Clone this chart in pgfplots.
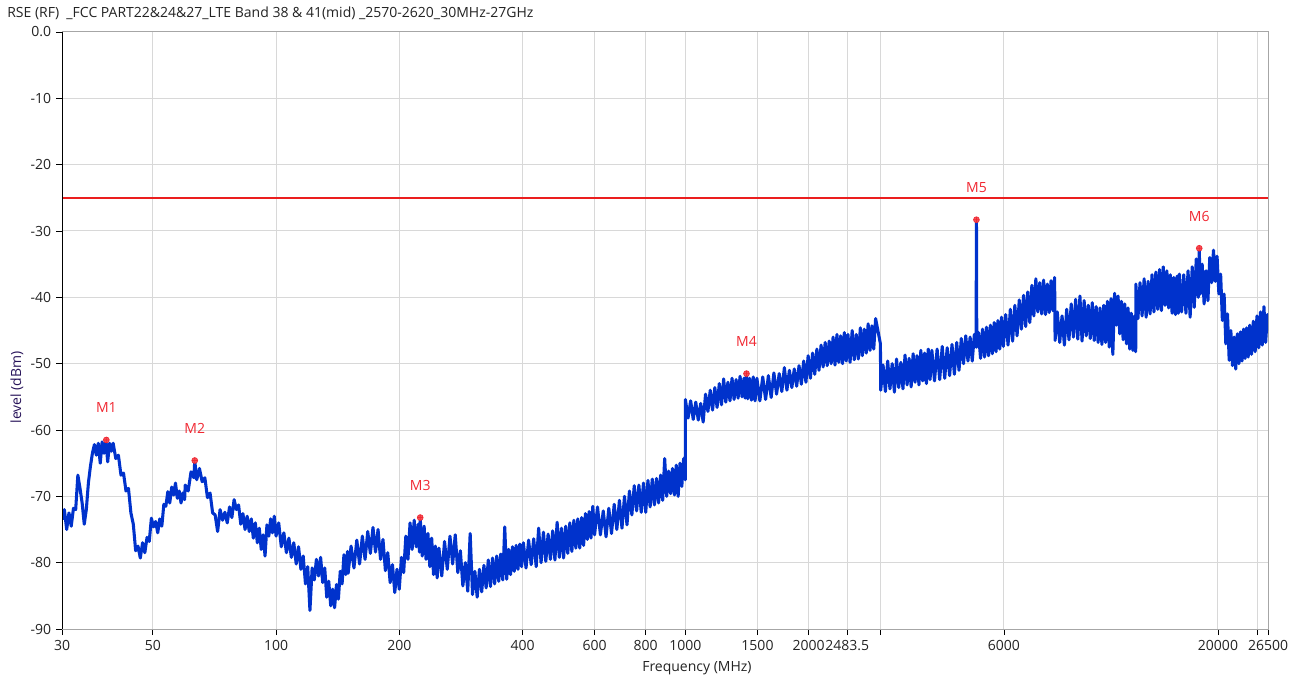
\documentclass[border=0pt]{standalone}
\usepackage{fontspec}
\setmainfont{Open Sans}
\usepackage{pgfplots}
\pgfplotsset{compat=1.18}
\definecolor{trace}{RGB}{0,50,204}
\definecolor{mkred}{RGB}{240,40,50}
\definecolor{limred}{RGB}{235,30,30}
\definecolor{gridc}{RGB}{216,216,216}
\definecolor{ylab}{RGB}{40,20,90}
\definecolor{txt}{RGB}{35,35,35}
\begin{document}
\fontsize{10.5pt}{12pt}\selectfont
\begin{tikzpicture}
\begin{axis}[
  name=ax,
  scale only axis, width=904.5pt, height=447.75pt,
  xmode=log, xmin=30, xmax=26500, ymin=-90, ymax=0,
  xtick={30,50,100,200,400,600,800,1000,1500,2000,2483.5,3000,6000,20000,25000,26500},
  xticklabels={30,50,100,200,400,600,800,1000,1500,2000,2483.5,{},6000,20000,{},26500},
  minor xtick={},
  ytick={-90,-80,-70,-60,-50,-40,-30,-20,-10,0},
  yticklabels={-90,-80,-70,-60,-50,-40,-30,-20,-10,0.0},
  grid=major, major grid style={gridc, line width=0.75pt},
  tick align=outside, tick pos=left, major tick length=4.5pt,
  tick style={black, line width=0.6pt},
  axis line style={gray!70, line width=0.75pt},
  ticklabel style={font=\fontsize{10.5pt}{12pt}\selectfont, text=txt},
]
\addplot[draw=trace, line width=2.3pt, line join=round, mark=none] table {
f L
30.0 -73.5
30.4 -72
30.8 -75
31.2 -72.5
31.6 -74.5
32.0 -71.8
32.4 -72
32.8 -66.8
33.2 -68.8
33.6 -71
34.0 -74.2
34.4 -72
34.8 -68
35.2 -65.5
35.6 -63.5
36.0 -62.2
36.4 -63.8
36.8 -62
37.2 -65
37.6 -61.8
38.0 -63.5
38.4 -61.6
38.8 -64.8
39.2 -62
39.6 -63.2
40.0 -62
40.6 -64.3
41.2 -63.8
41.8 -66.8
42.4 -66.5
43.0 -69.2
43.6 -68.8
44.2 -72.5
44.8 -74.2
45.4 -78.2
46.0 -77.5
46.6 -79.3
47.2 -77
47.8 -78.5
48.4 -76.2
49.0 -76.8
49.6 -73.3
50.2 -74.6
50.8 -73.8
51.4 -75.5
52.0 -73.4
52.6 -74.5
53.2 -71.2
53.8 -71.5
54.4 -69.3
55.0 -71
55.6 -68.6
56.2 -69.8
56.8 -68
57.4 -70.3
58.0 -69.2
58.6 -71
59.2 -69.5
59.8 -70.5
60 -68.3
61 -69.2
62 -66.3
63 -67.2
63.3 -64.6
64 -67.5
65 -65.8
66 -67.8
67 -67.2
68 -70.2
69 -69.5
70 -72.5
71 -72.8
72 -75.3
73 -72
74 -73.6
75 -72.4
76 -74
77 -71.6
78 -73.2
79 -70.5
80 -72
81 -71.3
82 -74.2
83 -72.6
84 -75
85 -73
86 -75.3
87 -73.4
88 -76.3
89 -74
90 -77
91 -74.8
92 -78
93 -75.8
94 -79
95 -74.3
96 -76
97 -73.4
98 -75.5
99 -73
100 -76
101.5 -74
103 -77.6
104.5 -75.5
106 -78.5
107.5 -76.3
109 -79.2
110.5 -77
112 -80.2
113.5 -77.6
115 -81
116.5 -79
118 -83.2
119.5 -80.6
121 -87.2
122.5 -80.8
124 -82.6
125.5 -79.5
127 -82
128.5 -79.2
130 -83
131.5 -80.8
133 -85.2
134.5 -82.8
136 -86.5
137.5 -84
139 -86.8
140.5 -83.3
142 -85.5
143.5 -81.3
145 -83.2
146.5 -78.8
148 -81.8
149.5 -78.3
150 -81.6
152.5 -77.5
155 -80.8
157.5 -76.6
160 -80.2
162.5 -76
165 -79.5
167.5 -75.3
170 -78.6
172.5 -74.7
175 -78.4
177.5 -75
180 -79.5
182.5 -76.5
185 -81.2
187.5 -78.5
190 -83
192.5 -80.3
195 -84.5
197.5 -81
200 -84
202.5 -79.2
205 -81.5
207.5 -76
210 -79.5
212.5 -74
215 -78
217.5 -73.6
220 -77.6
222.5 -74.2
224 -78.4
225 -73.2
227.5 -79
230 -74.5
232.5 -79.5
235 -75.6
237.5 -80.6
240 -76.3
242.5 -81.8
245 -77.5
247.5 -82.3
250 -77.8
254 -82
258 -76.8
262 -81
266 -76
270 -80.2
274 -75.8
278 -81.5
282 -78.2
286 -83.5
290 -80
294 -84.3
298 -75.6
302 -84.8
306 -81.3
310 -85.2
314 -81
318 -84.4
322 -80.4
326 -83.8
330 -79.6
334 -83.6
338 -79.3
342 -83.2
346 -79
350 -82.8
354 -78.7
358 -82.6
362 -74.6
366 -82.5
370 -78
374 -81.8
378 -77.6
382 -81.3
386 -77.4
390 -81
394 -77.2
398 -80.6
402 -77
408 -80.8
414 -76.6
420 -80.3
426 -76.4
432 -80.6
438 -74.8
444 -80
450 -75.4
456 -79.8
462 -75.7
468 -79.5
474 -75.2
480 -79.6
486 -73.9
492 -79.2
498 -74.8
504 -79.3
510 -74.5
516 -78.6
522 -74
528 -78.3
534 -73.6
540 -77.8
546 -73.4
552 -77.8
558 -73.2
564 -77.4
570 -72.6
576 -76.5
582 -72.3
588 -76.3
594 -71.5
600 -75.8
610 -71.6
620 -75.8
630 -72.2
640 -76.1
650 -71.8
660 -75.6
670 -71.2
680 -75
690 -70.6
700 -74.8
710 -70
720 -74.3
730 -69.2
740 -72.8
750 -68.4
760 -72.2
770 -68.3
780 -72.4
790 -68
800 -72.4
810 -67.6
820 -71.6
830 -67.4
840 -71.3
850 -67.3
860 -71
870 -66.8
880 -70.6
890 -64.3
900 -70
910 -66.2
920 -69.6
930 -65.8
940 -69.8
950 -65.3
960 -70
970 -65
980 -68.5
990 -64.3
999 -67.5
1000 -55.4
1015 -58.2
1030 -55.6
1045 -58.4
1060 -55.8
1075 -58.5
1090 -56
1105 -58.8
1120 -54.6
1135 -57.2
1150 -54
1165 -57
1180 -53.6
1195 -56.6
1210 -53
1225 -56.2
1240 -52.3
1255 -55.8
1270 -52.8
1285 -55.6
1300 -52.2
1315 -55.4
1330 -52.4
1345 -55.2
1360 -51.9
1375 -55
1390 -52.2
1400 -55.2
1410 -51.5
1420 -55.3
1435 -52.2
1450 -55.5
1465 -52
1480 -55.6
1495 -52.2
1520 -55.6
1545 -52
1570 -55.4
1595 -51.8
1620 -55.1
1645 -51.4
1670 -54.6
1695 -51.5
1720 -54.2
1745 -50.6
1770 -54
1795 -51
1820 -53.6
1845 -50.8
1870 -53.4
1895 -50.3
1920 -53.1
1945 -49.6
1970 -52.8
1995 -48.8
2020 -52.2
2045 -48.4
2070 -51.6
2095 -47.8
2120 -51
2145 -47.2
2170 -50.5
2195 -46.8
2220 -50.3
2245 -46.6
2270 -50
2295 -46
2320 -50.2
2345 -45.6
2370 -49.8
2395 -45.8
2420 -50
2445 -45.3
2470 -49.6
2495 -45.6
2525 -49.8
2555 -45
2585 -49.4
2615 -45.6
2645 -49.3
2675 -44.6
2705 -48.8
2735 -44.8
2765 -48.4
2795 -44
2825 -48
2855 -44.3
2885 -47.8
2915 -43.2
2995 -47
3000 -54
3040 -50.2
3080 -54.2
3120 -49.6
3160 -53.8
3200 -50
3240 -54.3
3280 -49.3
3320 -53.6
3360 -49.8
3400 -53.8
3440 -48.7
3480 -53.2
3520 -49.2
3560 -53.5
3600 -48.5
3640 -52.8
3680 -48.8
3720 -53.2
3760 -48
3800 -52.6
3840 -48.4
3880 -53
3920 -47.8
3960 -52.4
4000 -48
4060 -52.6
4120 -47.8
4180 -52.4
4240 -47.4
4300 -52.2
4360 -47.6
4420 -51.8
4480 -47.1
4540 -51.6
4600 -46.8
4660 -51
4720 -46.2
4780 -50
4840 -45.8
4900 -49.6
4960 -46
5020 -49.6
5080 -45.6
5130 -47.5
5140 -28.3
5150 -47.5
5200 -45.3
5260 -49.2
5320 -44.8
5380 -49
5440 -44.5
5500 -48.8
5560 -44.2
5620 -48.5
5680 -43.8
5740 -48.2
5800 -43.5
5860 -47.8
5920 -43
5980 -47.4
6060 -42.6
6140 -47.2
6220 -41.8
6300 -46.6
6380 -41.2
6460 -45.8
6540 -40.4
6620 -44.8
6700 -39.7
6780 -44.4
6860 -39.2
6940 -43.8
7020 -38.2
7100 -42.8
7180 -37.2
7260 -42.2
7340 -37.8
7420 -42.5
7500 -37.4
7580 -42.6
7660 -38
7740 -42.3
7820 -37.5
7900 -42
7980 -37
8000 -46.5
8100 -42.2
8210 -46.8
8320 -42.8
8430 -47.2
8540 -41.8
8650 -46.4
8760 -41
8870 -46
8980 -40.3
9090 -46.3
9200 -39.8
9310 -46.6
9420 -40.5
9530 -45.8
9640 -41.2
9750 -46.2
9860 -40.8
9970 -46.5
10080 -41.4
10190 -46.8
10300 -41.6
10410 -47.1
10520 -41.2
10630 -46.8
10740 -40.6
10850 -47.5
10960 -40.2
11070 -48.6
11180 -39.4
11290 -44.2
11400 -39.8
11510 -45.5
11620 -40.6
11730 -46.4
11840 -41
11950 -47
12060 -41.6
12170 -47.8
12280 -42.4
12390 -48
12500 -42.8
12590 -48.2
12600 -38
12750 -43.2
12900 -37.8
13050 -42.8
13200 -37.2
13350 -43
13500 -37.6
13650 -42.5
13800 -36.6
13950 -42.2
14100 -36.2
14250 -41.8
14400 -35.8
14550 -42
14700 -35.4
14850 -41.2
15000 -36
15150 -41.6
15300 -36.6
15450 -42.4
15600 -37
15750 -42.6
15900 -36.8
16000 -42.4
16100 -36.5
16300 -42.2
16500 -36.6
16700 -42.4
16900 -36
17100 -43
17300 -35.4
17500 -41.5
17700 -34.2
17900 -40
18000 -32.6
18100 -39.5
18300 -35
18500 -41
18700 -36
18900 -40.5
19100 -34
19300 -37.8
19500 -32.9
19700 -37.6
19900 -33.8
20100 -39.5
20300 -36.5
20500 -43.5
20700 -39.5
20900 -47
21100 -42.5
21300 -49.5
21500 -45
21700 -50.3
21900 -46
22100 -50.8
22300 -45.5
22500 -50
22700 -45.2
22900 -49.6
23100 -44.8
23300 -49.2
23500 -44.6
23700 -49
23900 -44.2
24150 -48.6
24400 -43.6
24650 -48.2
24900 -42.8
25150 -47.6
25400 -42.2
25650 -47.2
25900 -41.4
26150 -46.8
26400 -42.6
26500 -45
};
\addplot[draw=limred, line width=1.1pt, mark=none] coordinates {(30,-25) (26500,-25)};
\addplot[only marks, mark=oplus*, mark size=2.2pt,
  mark options={draw=mkred, fill=mkred!80!white, line width=0.5pt},
  nodes near coords, point meta=explicit symbolic,
  every node near coord/.append style={text=mkred, anchor=center, yshift=24pt, font=\fontsize{10.5pt}{12pt}\selectfont}]
  table[meta=lab] {
x y lab
38.5 -61.5 M1
63.3 -64.6 M2
225 -73.2 M3
1410 -51.5 M4
5140 -28.3 M5
18000 -32.6 M6
};
\draw[black, line width=1.1pt] (rel axis cs:0,0) -- (rel axis cs:0,1);
\end{axis}
\node[rotate=90, text=ylab] at ([shift={(-33.75pt,181.3pt)}]ax.south west) {level (dBm)};
\node[text=txt] at ([shift={(476.2pt,-29.25pt)}]ax.south west) {Frequency (MHz)};
\node[anchor=west, text=txt, inner sep=0pt] at ([shift={(-41.25pt,14.25pt)}]ax.north west) {RSE (RF)\ \ \_FCC PART22\&24\&27\_LTE Band 38 \& 41(mid) \_2570-2620\_30MHz-27GHz};
\pgfresetboundingbox
\path ([shift={(-46.5pt,-39.75pt)}]ax.south west) rectangle ([shift={(24.75pt,24pt)}]ax.north east);
\end{tikzpicture}
\end{document}
